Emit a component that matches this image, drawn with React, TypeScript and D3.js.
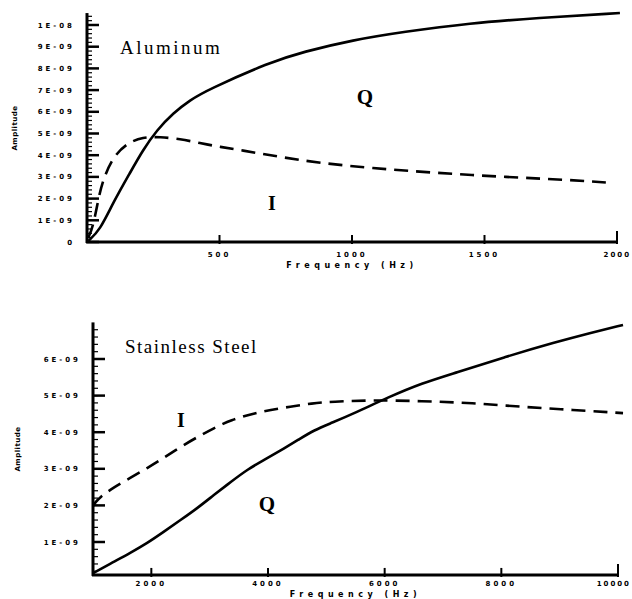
import React from "react";
import * as d3 from "d3";

// Aluminum panel: frequency (Hz), amplitude in units of 1E-09
const aluQ: [number, number][] = [
  [5, 0.05], [49, 0.55], [98, 1.8], [162, 3.18], [211, 4.24], [264, 5.16],
  [325, 5.94], [389, 6.54], [453, 7.0], [691, 8.29], [815, 8.76], [1004, 9.31],
  [1192, 9.68], [1445, 10.09], [1698, 10.32], [2011, 10.55],
];
const aluI: [number, number][] = [
  [5, 0.2], [23, 0.7], [42, 1.94], [60, 2.86], [98, 3.92], [151, 4.56], [211, 4.84],
  [275, 4.84], [351, 4.75], [426, 4.56], [502, 4.38], [577, 4.24], [728, 3.92],
  [879, 3.64], [1068, 3.41], [1321, 3.18], [1570, 3.0], [1823, 2.86], [1985, 2.72],
];
const aluYTicks = [0, 1, 2, 3, 4, 5, 6, 7, 8, 9, 10];
const aluYLabels = ["0", "1E-09", "2E-09", "3E-09", "4E-09", "5E-09", "6E-09", "7E-09", "8E-09", "9E-09", "1E-08"];
const aluXTicks = [500, 1000, 1500, 2000];

// Stainless steel panel
const ssQ: [number, number][] = [
  [1000, 0.15], [1345, 0.45], [1638, 0.7], [1931, 0.97], [2207, 1.27], [2500, 1.6],
  [2793, 1.93], [3069, 2.28], [3362, 2.64], [3655, 2.99], [3931, 3.24], [4224, 3.51],
  [4517, 3.79], [4793, 4.06], [5086, 4.25], [5483, 4.52], [6069, 4.96], [6638, 5.34],
  [7207, 5.62], [8069, 6.06], [8931, 6.46], [9517, 6.71], [10086, 6.93],
];
const ssI: [number, number][] = [
  [1000, 1.98], [1034, 2.07], [1121, 2.23], [1345, 2.48], [1638, 2.75], [1931, 3.02],
  [2207, 3.29], [2500, 3.6], [2793, 3.87], [3069, 4.11], [3362, 4.33], [3759, 4.52],
  [4224, 4.66], [4793, 4.8], [5086, 4.83], [5776, 4.88], [6638, 4.85], [7500, 4.8],
  [8362, 4.69], [9224, 4.61], [10086, 4.52],
];
const ssYTicks = [1, 2, 3, 4, 5, 6];
const ssYLabels = ["1E-09", "2E-09", "3E-09", "4E-09", "5E-09", "6E-09"];
const ssXTicks = [2000, 4000, 6000, 8000, 10000];

const tickFont = "'DejaVu Sans', sans-serif";
const serif = "'Liberation Serif', 'DejaVu Serif', serif";

type PanelProps = {
  x: d3.ScaleLinear<number, number>;
  y: d3.ScaleLinear<number, number>;
  yMin: number;
  yMax: number;
  xTicks: number[];
  yTicks: number[];
  yLabels: string[];
  q: [number, number][];
  i: [number, number][];
  dash: string;
  titleY: number;
  tickLabelY: number;
  amplitudeY: number;
  amplitudeX: number;
};

function Panel(p: PanelProps) {
  const { x, y } = p;
  const line = d3
    .line<[number, number]>()
    .x((d) => x(d[0]))
    .y((d) => y(d[1]))
    .curve(d3.curveBasis);
  const x0 = x.range()[0];
  const x1 = x.range()[1];
  const yBase = y(p.yMin);
  const yTop = y(p.yMax);
  const minor = d3.range(Math.ceil(p.yMin / 0.2) * 0.2, p.yMax, 0.2);
  const last = p.xTicks.length - 1;
  return (
    <g>
      {/* y axis */}
      <line x1={x0} x2={x0} y1={yTop} y2={yBase + 1} stroke="#000" strokeWidth={3} />
      {minor.map((v, k) => (
        <line key={"m" + k} x1={x0} x2={x0 + 5} y1={y(v)} y2={y(v)} stroke="#000" strokeWidth={1.2} />
      ))}
      {p.yTicks.map((v, k) => (
        <g key={"y" + k}>
          <line x1={x0} x2={x0 + 12} y1={y(v)} y2={y(v)} stroke="#000" strokeWidth={2.5} />
          <text
            x={x0 - 12}
            y={y(v) + 2.5}
            textAnchor="end"
            fontFamily={tickFont}
            fontWeight="bold"
            fontSize={7}
            letterSpacing={3}
          >
            {p.yLabels[k]}
          </text>
        </g>
      ))}
      {/* x axis */}
      <line x1={x0 - 1} x2={x1} y1={yBase} y2={yBase} stroke="#000" strokeWidth={3} />
      {p.xTicks.map((v, k) => (
        <g key={"x" + k}>
          <line
            x1={x(v)}
            x2={x(v)}
            y1={yBase + 2}
            y2={yBase - (k === last ? 11 : 7)}
            stroke="#000"
            strokeWidth={2}
          />
          <text
            x={k === last ? 631 : x(v)}
            y={p.tickLabelY}
            textAnchor={k === last ? "end" : "middle"}
            fontFamily={tickFont}
            fontWeight="bold"
            fontSize={7}
            letterSpacing={k === last ? 2 : 3}
          >
            {String(v)}
          </text>
        </g>
      ))}
      <text
        x={(x0 + x1) / 2}
        y={p.titleY}
        textAnchor="middle"
        fontFamily={tickFont}
        fontWeight="bold"
        fontSize={8}
        letterSpacing={4.5}
      >
        Frequency (Hz)
      </text>
      <text
        transform={`translate(${p.amplitudeX},${p.amplitudeY}) rotate(-90)`}
        textAnchor="middle"
        fontFamily={tickFont}
        fontWeight="bold"
        fontSize={7}
        letterSpacing={0.5}
      >
        Amplitude
      </text>
      {/* curves */}
      <path d={line(p.q) || ""} fill="none" stroke="#000" strokeWidth={2.6} />
      <path d={line(p.i) || ""} fill="none" stroke="#000" strokeWidth={2.6} strokeDasharray={p.dash} />
    </g>
  );
}

export default function App() {
  const aluX = d3.scaleLinear().domain([0, 2000]).range([87, 617]);
  const aluY = d3.scaleLinear().domain([0, 10]).range([242, 25]);
  const ssX = d3.scaleLinear().domain([1000, 10000]).range([93, 618]);
  const ssY = d3.scaleLinear().domain([0, 7]).range([578.6, 322.4]);

  return (
    <div style={{ position: "absolute", left: 0, top: 0, background: "#fff" }}>
      <svg width={632} height={599} style={{ display: "block" }}>
        <rect width={632} height={599} fill="#fff" />
        <Panel
          x={aluX}
          y={aluY}
          yMin={0}
          yMax={10.55}
          xTicks={aluXTicks}
          yTicks={aluYTicks}
          yLabels={aluYLabels}
          q={aluQ}
          i={aluI}
          dash="14 8"
          tickLabelY={257}
          titleY={268}
          amplitudeX={17}
          amplitudeY={128}
        />
        <text x={120} y={54} fontFamily={serif} fontSize={19} letterSpacing={2.5}>
          Aluminum
        </text>
        <text x={365} y={104} textAnchor="middle" fontFamily={serif} fontWeight="bold" fontSize={21}>
          Q
        </text>
        <text x={272} y={210} textAnchor="middle" fontFamily={serif} fontWeight="bold" fontSize={20}>
          I
        </text>

        <Panel
          x={ssX}
          y={ssY}
          yMin={0.1}
          yMax={7}
          xTicks={ssXTicks}
          yTicks={ssYTicks}
          yLabels={ssYLabels}
          q={ssQ}
          i={ssI}
          dash="14 8"
          tickLabelY={586}
          titleY={597}
          amplitudeX={20}
          amplitudeY={449}
        />
        <text x={125} y={353} fontFamily={serif} fontSize={19} letterSpacing={1.5}>
          Stainless Steel
        </text>
        <text x={181} y={427} textAnchor="middle" fontFamily={serif} fontWeight="bold" fontSize={20}>
          I
        </text>
        <text x={267} y={511} textAnchor="middle" fontFamily={serif} fontWeight="bold" fontSize={21}>
          Q
        </text>
      </svg>
    </div>
  );
}
